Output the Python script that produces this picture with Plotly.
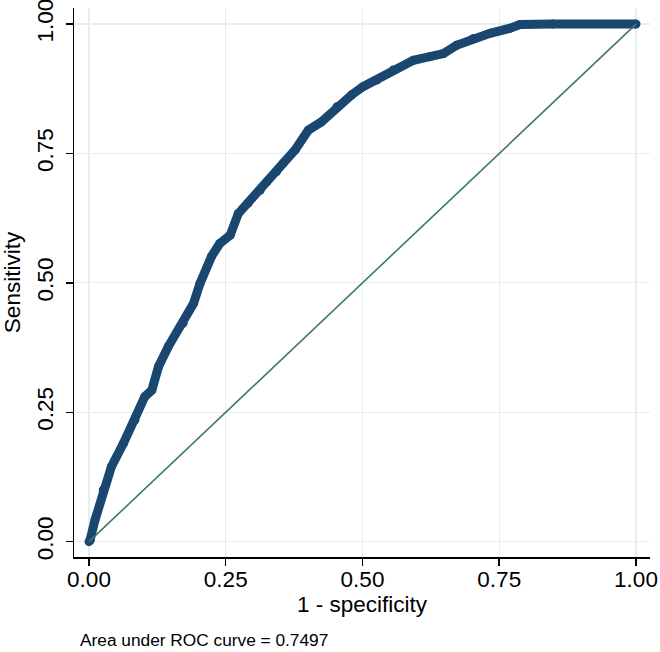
import plotly.graph_objects as go

# ROC curve points (1 - specificity, sensitivity)
fpr = [0.0, 0.002, 0.011, 0.026, 0.041, 0.063, 0.084, 0.102, 0.115, 0.127, 0.145,
       0.172, 0.191, 0.203, 0.224, 0.239, 0.258, 0.273, 0.291, 0.313, 0.325, 0.343,
       0.355, 0.377, 0.401, 0.425, 0.453, 0.480, 0.501, 0.526, 0.556, 0.593, 0.623,
       0.648, 0.672, 0.703, 0.733, 0.770, 0.788, 0.848, 1.0]
tpr = [0.0, 0.003, 0.042, 0.100, 0.145, 0.190, 0.235, 0.280, 0.293, 0.338, 0.377,
       0.422, 0.460, 0.499, 0.551, 0.576, 0.592, 0.634, 0.654, 0.679, 0.695, 0.715,
       0.731, 0.757, 0.795, 0.811, 0.840, 0.863, 0.879, 0.892, 0.911, 0.930, 0.937,
       0.943, 0.959, 0.972, 0.982, 0.992, 0.999, 1.0, 1.0]
ref_x = [0.0, 1.0]
ref_y = [0.0, 1.0]
tick_vals = [0.0, 0.25, 0.5, 0.75, 1.0]
tick_text = ["0.00", "0.25", "0.50", "0.75", "1.00"]
auc_note = "Area under ROC curve = 0.7497"

FONT = "Liberation Sans, Arial, Helvetica, sans-serif"

fig = go.Figure()
fig.add_trace(go.Scatter(x=fpr, y=tpr, mode="lines+markers",
                         line=dict(color="#1a476f", width=9),
                         marker=dict(color="#1a476f", size=9),
                         hoverinfo="skip", showlegend=False))
fig.add_trace(go.Scatter(x=ref_x, y=ref_y, mode="lines",
                         line=dict(color="#3e7a62", width=1.6),
                         hoverinfo="skip", showlegend=False))

fig.update_layout(
    width=660, height=652,
    margin=dict(l=74, r=10, t=8, b=95, autoexpand=False),
    paper_bgcolor="white", plot_bgcolor="white",
    font=dict(family=FONT, color="black", size=22.5),
    xaxis=dict(range=[-0.0274, 1.0256], tickvals=tick_vals, ticktext=tick_text,
               showgrid=True, gridcolor="#e6eef0", gridwidth=1.2, automargin=False,
               zeroline=False, showline=True, linecolor="black", linewidth=1.5,
               ticks="outside", ticklen=7, tickwidth=1.5, tickcolor="black",
               tickfont=dict(size=22.5), ticklabelstandoff=-6, ticklabeloverflow="allow",
               title=dict(text="1 - specificity", font=dict(size=22.5), standoff=2)),
    yaxis=dict(range=[-0.0296, 1.031], tickvals=tick_vals, ticktext=tick_text,
               showgrid=True, gridcolor="#e6eef0", gridwidth=1.2, automargin=False,
               zeroline=False, showline=True, linecolor="black", linewidth=1.5,
               ticks="outside", ticklen=7, tickwidth=1.5, tickcolor="black",
               tickangle=-90, tickfont=dict(size=22.5), ticklabelstandoff=4,
               ticklabeloverflow="allow",
               title=dict(text="Sensitivity", font=dict(size=22.5), standoff=8)),
    annotations=[dict(text=auc_note, xref="paper", yref="paper",
                      x=(78 - 74) / 576, y=-(640 - 557) / 549,
                      xanchor="left", yanchor="middle", showarrow=False,
                      font=dict(size=17.3, family=FONT, color="black"))],
)

fig.write_html("out.html", config={"displayModeBar": False, "staticPlot": True},
               post_script="document.body.style.margin='0';document.body.style.overflow='hidden';")
